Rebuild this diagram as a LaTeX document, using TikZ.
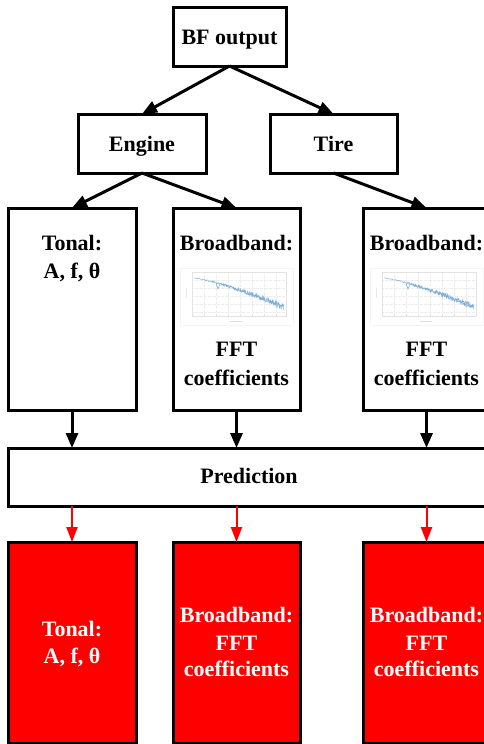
\documentclass[tikz,border=0pt]{standalone}
\usepackage{fontspec}
\setmainfont{Liberation Serif}
\usetikzlibrary{arrows.meta}
\definecolor{chartblue}{RGB}{120,172,215}
\definecolor{boxred}{RGB}{255,0,0}
\begin{document}
\begin{tikzpicture}[x=1pt,y=-1pt,
  box/.style={draw=black,line width=3pt,fill=white,inner sep=0pt,outer sep=0pt},
  redbox/.style={box,fill=boxred},
  lbl/.style={anchor=base,inner sep=0pt,font=\bfseries\fontsize{22}{27}\selectfont},
  wlbl/.style={lbl,text=white},
  arr/.style={line width=3pt,-{Triangle[length=15pt,width=12pt]}},
  rarr/.style={draw=boxred,line width=2pt,-{Triangle[length=15pt,width=11pt]}},
  chart/.pic={
    \fill[white] (0,0) rectangle (113,57);
    \draw[gray!8,line width=0.5pt] (0,0) rectangle (113,57);
    \foreach \gx in {24,36,...,100} \draw[gray!14,line width=0.3pt,densely dotted] (\gx,4) -- (\gx,48);
    \foreach \gy in {12,20,...,44} \draw[gray!14,line width=0.3pt,densely dotted] (12,\gy) -- (106,\gy);
    \draw[gray!22,line width=0.4pt] (12,4) rectangle (106,48);
    \foreach \gx in {24,36,...,100} \draw[gray!25,line width=0.3pt] (\gx,48) -- (\gx,46);
    \draw[gray!25,line width=0.5pt] (50,53) -- (62,53);
    \draw[gray!18,line width=0.4pt] (6,20) -- (6,30);
    \draw[chartblue,line width=0.4pt] plot[domain=0:1,samples=160] ({14+90*\x},{10+29*(\x)^1.3+(0.3+2.6*\x)*rand});
    \draw[chartblue,line width=0.4pt] plot[domain=0.3:1,samples=140] ({14+90*\x},{10+29*(\x)^1.3+(0.5+2.8*\x)*rand});
    \draw[chartblue,line width=0.5pt] (36,15) -- (38,21) -- (40,16);
  }]
\pgfmathsetseed{7}
\useasboundingbox (0,0) rectangle (484,744);
\clip (0,0) rectangle (484,744);
% top
\node[box,minimum width=113pt,minimum height=59pt] (bf) at (229.5,36.5) {};
\node[lbl] (bft) at (229.5,44) {BF output};
\node[box,minimum width=128pt,minimum height=59pt] (engine) at (142,143.5) {};
\node[lbl] (enginet) at (142,151) {Engine};
\node[box,minimum width=127pt,minimum height=59pt] (tire) at (333.5,143.5) {};
\node[lbl] (tiret) at (333.5,151) {Tire};
% second row
\node[box,minimum width=128pt,minimum height=202pt] (tonal) at (72,309) {};
\node[lbl] (tonalt1) at (72,250) {Tonal:};
\node[lbl] (tonalt2) at (72,278) {A, f, θ};
\node[box,minimum width=127pt,minimum height=202pt] (bba) at (236.5,309) {};
\node[lbl] (bbat1) at (236.5,250) {Broadband:};
\pic (charta) at (180,268) {chart};
\node[lbl] (bbat2) at (236.5,356.7) {FFT};
\node[lbl] (bbat3) at (236.5,385) {coefficients};
\node[box,minimum width=127pt,minimum height=202pt] (bbb) at (426.5,309) {};
\node[lbl] (bbbt1) at (426.5,250) {Broadband:};
\pic (chartb) at (370,268) {chart};
\node[lbl] (bbbt2) at (426.5,356.7) {FFT};
\node[lbl] (bbbt3) at (426.5,385) {coefficients};
% prediction
\node[box,minimum width=482pt,minimum height=58pt] (pred) at (249,477) {};
\node[lbl] (predt) at (249,483) {Prediction};
% red row
\node[redbox,minimum width=128pt,minimum height=201pt] (rtonal) at (72,642.5) {};
\node[wlbl] (rtonalt1) at (72,636.7) {Tonal:};
\node[wlbl] (rtonalt2) at (72,663) {A, f, θ};
\node[redbox,minimum width=127pt,minimum height=201pt] (rbba) at (236.5,642.5) {};
\node[wlbl] (rbbat1) at (236.5,622.7) {Broadband:};
\node[wlbl] (rbbat2) at (236.5,650) {FFT};
\node[wlbl] (rbbat3) at (236.5,676.7) {coefficients};
\node[redbox,minimum width=127pt,minimum height=201pt] (rbbb) at (426.5,642.5) {};
\node[wlbl] (rbbbt1) at (426.5,622.7) {Broadband:};
\node[wlbl] (rbbbt2) at (426.5,650) {FFT};
\node[wlbl] (rbbbt3) at (426.5,676.7) {coefficients};
% arrows
\draw[arr] (bf.south) -- (engine.north);
\draw[arr] (bf.south) -- (tire.north);
\draw[arr] (engine.south) -- (tonal.north);
\draw[arr] (engine.south) -- (bba.north);
\draw[arr] (tire.south) -- (bbb.north);
\draw[arr] (tonal.south) -- (tonal.south |- pred.north);
\draw[arr] (bba.south) -- (bba.south |- pred.north);
\draw[arr] (bbb.south) -- (bbb.south |- pred.north);
\draw[rarr] (pred.south -| rtonal.north) -- (rtonal.north);
\draw[rarr] (pred.south -| rbba.north) -- (rbba.north);
\draw[rarr] (pred.south -| rbbb.north) -- (rbbb.north);
\end{tikzpicture}
\end{document}
